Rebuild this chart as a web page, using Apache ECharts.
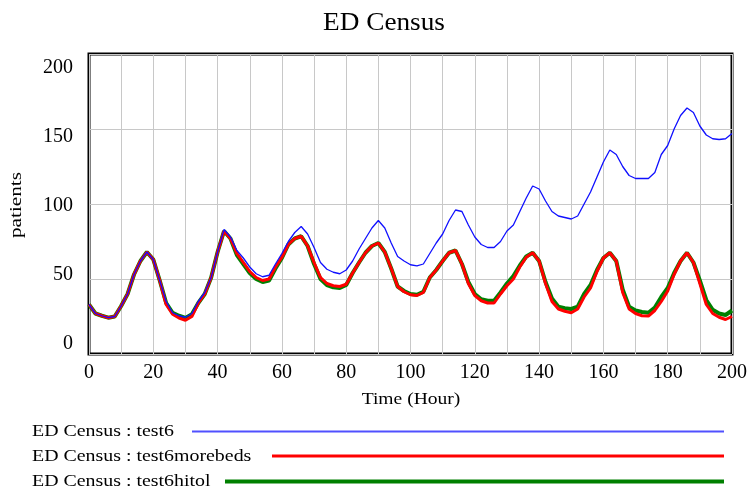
<!DOCTYPE html>
<html>
<head>
<meta charset="utf-8">
<script src="https://cdn.jsdelivr.net/npm/echarts@6/dist/echarts.min.js"></script>
<style>html,body{margin:0;padding:0;background:#fff;}#c{width:750px;height:493px;}</style>
</head>
<body>
<div id="c"></div>
<script>
var hours = [0,2,4,6,8,10,12,14,16,18,20,22,24,26,28,30,32,34,36,38,40,42,44,46,48,50,52,54,56,58,60,62,64,66,68,70,72,74,76,78,80,82,84,86,88,90,92,94,96,98,100,102,104,106,108,110,112,114,116,118,120,122,124,126,128,130,132,134,136,138,140,142,144,146,148,150,152,154,156,158,160,162,164,166,168,170,172,174,176,178,180,182,184,186,188,190,192,194,196,198,200];
var test6 = [33,27,25.5,24.2,25,32,40,53,62,68,63,49,35,27.5,25.5,24.5,27,35,41,51,68,83,78,69,64,58,53.5,51.5,52.5,60,67,75,81,85,80,71,61,56.5,54.5,53.5,56,62,70,77,84,89,84,74,65,62,59.5,58.7,60,67,74,80,89,96,95,86,78,73,71,71,75,82,86,95,104,112,110,102,95,92,91,90,92,100,108,118,128,136,133,125,119,117,117,117,121,133,139,150,159,164,161,152,146,143.5,143,143.5,147];
var test6morebeds = [33,27,25.5,24.2,25,32,40,53,62,68,63,49,33,26.5,24,22.5,25,34,40,51,68,82,77,67,61,55,51,49,50,58,64.5,73,77,78.5,72,61,51,47,45.5,45,46.5,54,61,67.5,72,74,68,57,45,41.5,39.5,39,41,51,56,62,67.5,69,60,47,39,35.5,34,34,40,45.5,50,58,64.5,67.5,62,47,35,30,28.5,27.5,30,38,44,55,64,67.5,62,41,30,27,25.5,25.3,29,35,42,53,62,67.5,61,47,33,27,24.5,23,25];
var test6hitol = [33,27,25.5,24.2,25,32,40,53,62,68,63,49,34,27.5,25.5,24,26.5,34,40,51,68,82,77,66,60,54,50,48,49,57,64,73,77,78.5,72,60,50,46,44.5,44,46,54,61,67.5,72,74,68,57,45,42,40,39.5,41.5,51,56,62,67.5,69,60,48,40,36.5,35.5,35.5,41,47,52,59,65,67.5,62,48,37,31.5,30.5,30,31.5,40,46,56,64,67.5,62,43,31.5,29,28,27.5,31,38,44,54,62,67.5,61,49,36,29.5,27,26,29];
var xTicks = [0,20,40,60,80,100,120,140,160,180,200];
var yTicks = [0,50,100,150,200];
var legendNames = ['ED Census : test6','ED Census : test6morebeds','ED Census : test6hitol'];

function pairs(v){ return hours.map(function(h,i){ return [h, v[i]]; }); }
var serif = 'Liberation Serif';
function txt(s, x, y, size, sx, extra){
  var o = { type: 'text', x: x, y: y, scaleX: sx, style: { text: s, fontFamily: serif, fontSize: size, fill: '#000', verticalAlign: 'middle', align: 'left' } };
  if (extra) { for (var k in extra) { if (k === 'style') { for (var j in extra.style) o.style[j] = extra.style[j]; } else o[k] = extra[k]; } }
  return o;
}
var chart = echarts.init(document.getElementById('c'));
chart.setOption({
  animation: false,
  backgroundColor: '#fff',
  grid: { left: 89, top: 54, right: 18, bottom: 139, show: true, borderColor: '#000', borderWidth: 3, backgroundColor: 'transparent' },
  xAxis: {
    type: 'value', min: 0, max: 200, interval: 10,
    axisLine: { show: false }, axisTick: { show: false },
    splitLine: { show: true, lineStyle: { color: '#c8c8c8', width: 1 } },
    axisLabel: { customValues: xTicks, margin: 9, fontFamily: serif, fontSize: 20, color: '#000' }
  },
  yAxis: [
    { type: 'value', min: 0, max: 200, interval: 50, position: 'left',
      axisLine: { show: false }, axisTick: { show: false }, axisLabel: { show: false },
      splitLine: { show: true, lineStyle: { color: '#c8c8c8', width: 1 } } },
    { type: 'value', min: -7.77, max: 210.17, position: 'left', offset: 0,
      axisLine: { show: false }, axisTick: { show: false }, splitLine: { show: false },
      axisLabel: { customValues: yTicks, margin: 16, fontFamily: serif, fontSize: 20, color: '#000' } }
  ],
  series: [
    { name: legendNames[2], type: 'line', data: pairs(test6hitol), symbol: 'none', lineStyle: { color: '#008000', width: 4 }, z: 2 },
    { name: legendNames[1], type: 'line', data: pairs(test6morebeds), symbol: 'none', lineStyle: { color: '#ff0000', width: 3 }, z: 3 },
    { name: legendNames[0], type: 'line', data: pairs(test6), symbol: 'none', lineStyle: { color: '#1010ff', width: 1.3 }, z: 4 }
  ],
  graphic: [
    txt('ED Census', 384, 23, 25, 1.09, { style: { align: 'center' } }),
    txt('Time (Hour)', 411, 400, 17, 1.15, { style: { align: 'center' } }),
    txt('patients', 17, 205, 17, 1.25, { rotation: Math.PI/2, style: { align: 'center' } }),
    txt(legendNames[0], 32, 432, 17, 1.17),
    { type: 'line', shape: { x1: 192, y1: 431.5, x2: 724, y2: 431.5 }, style: { stroke: '#5050ff', lineWidth: 2 } },
    txt(legendNames[1], 32, 457, 17, 1.17),
    { type: 'line', shape: { x1: 272, y1: 456, x2: 724, y2: 456 }, style: { stroke: '#ff0000', lineWidth: 3 } },
    txt(legendNames[2], 32, 482, 17, 1.17),
    { type: 'line', shape: { x1: 225, y1: 481.5, x2: 724, y2: 481.5 }, style: { stroke: '#008000', lineWidth: 4 } }
  ]
});
</script>
</body>
</html>
